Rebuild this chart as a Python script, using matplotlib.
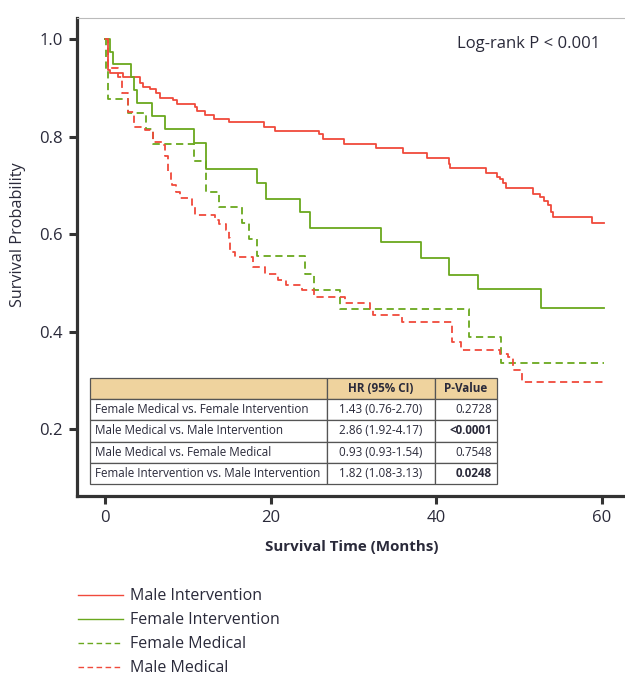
import numpy as np
from matplotlib import pyplot as plt

plt.rcParams['font.family'] = ['Open Sans', 'DejaVu Sans']

## Kaplan-Meier curves (months, survival probability)
male_int_t = [0, 0.3, 0.6, 2.2, 4.2, 4.6, 5.4, 6.2, 6.6, 8.2, 8.7, 10.9, 11.1, 12.1, 13.1, 15.0,
              19.2, 20.5, 25.8, 26.3, 28.8, 32.7, 36.0, 38.9, 41.5, 41.7, 46.0, 47.3, 47.7, 48.1,
              48.4, 51.7, 52.5, 53.0, 53.5, 53.9, 54.1, 58.8, 60.2]
male_int_s = [1.0, 0.936, 0.930, 0.923, 0.910, 0.902, 0.897, 0.890, 0.880, 0.875, 0.867, 0.860,
              0.853, 0.844, 0.835, 0.830, 0.819, 0.811, 0.805, 0.794, 0.785, 0.777, 0.767, 0.755,
              0.744, 0.736, 0.725, 0.718, 0.712, 0.704, 0.694, 0.683, 0.676, 0.668, 0.659, 0.646,
              0.634, 0.622, 0.622]

fem_int_t = [0, 0.6, 1.0, 3.1, 3.5, 3.8, 5.6, 7.2, 10.7, 12.2, 18.3, 19.4, 23.5, 24.7, 33.3,
             38.2, 41.5, 45.0, 52.7, 60.2]
fem_int_s = [1.0, 0.974, 0.948, 0.923, 0.895, 0.869, 0.842, 0.815, 0.787, 0.733, 0.704, 0.672,
             0.646, 0.613, 0.583, 0.550, 0.517, 0.487, 0.449, 0.449]

fem_med_t = [0, 0.1, 0.3, 2.8, 4.9, 5.8, 10.7, 12.2, 13.8, 16.5, 17.4, 18.3, 24.2, 25.2, 28.4,
             44.0, 47.8, 60.2]
fem_med_s = [1.0, 0.938, 0.876, 0.848, 0.815, 0.785, 0.750, 0.686, 0.655, 0.622, 0.590, 0.556,
             0.518, 0.485, 0.446, 0.389, 0.335, 0.335]

male_med_t = [0, 0.3, 1.5, 2.0, 2.8, 3.5, 4.8, 5.8, 7.0, 7.2, 7.6, 7.9, 8.1, 8.5, 9.1, 10.5,
              10.9, 13.3, 13.8, 14.6, 14.9, 15.1, 15.7, 17.9, 19.3, 20.9, 21.9, 23.8, 25.2, 29.0,
              32.0, 32.4, 35.8, 41.9, 43.0, 47.7, 48.7, 49.3, 50.3, 60.3]
male_med_s = [1.0, 0.94, 0.923, 0.889, 0.851, 0.820, 0.813, 0.789, 0.783, 0.760, 0.725, 0.704,
              0.700, 0.687, 0.673, 0.659, 0.640, 0.629, 0.620, 0.608, 0.591, 0.564, 0.553, 0.533,
              0.518, 0.506, 0.495, 0.485, 0.471, 0.459, 0.444, 0.434, 0.420, 0.379, 0.363, 0.355,
              0.347, 0.321, 0.297, 0.297]

## table contents
tab_header = ['', 'HR (95% CI)', 'P-Value']
comparisons = ['Female Medical vs. Female Intervention', 'Male Medical vs. Male Intervention',
               'Male Medical vs. Female Medical', 'Female Intervention vs. Male Intervention']
hr_ci = ['1.43 (0.76-2.70)', '2.86 (1.92-4.17)', '0.93 (0.93-1.54)', '1.82 (1.08-3.13)']
pvals = ['0.2728', '<0.0001', '0.7548', '0.0248']
bold_p = [False, True, False, True]

red = '#f04a3c'
green = '#6aa81e'
txtc = '#2a2a3a'
dash = (0, (4, 2.5))

fig = plt.figure(figsize=(6.25, 6.77), dpi=100)
ax = fig.add_axes([77/625, 1-496/677, 558/625, 478/677])

l1, = ax.step(male_int_t, male_int_s, where='post', color=red, lw=1.3)
l2, = ax.step(fem_int_t, fem_int_s, where='post', color=green, lw=1.3)
l3, = ax.step(fem_med_t, fem_med_s, where='post', color=green, lw=1.3, linestyle=dash)
l4, = ax.step(male_med_t, male_med_s, where='post', color=red, lw=1.3, linestyle=dash)

ax.set_xlim(-3.4, 64)
ax.set_ylim(0.063, 1.043)
ax.set_xticks([0, 20, 40, 60])
ax.set_yticks([0.2, 0.4, 0.6, 0.8, 1.0])
ax.set_yticklabels(['0.2', '0.4', '0.6', '0.8', '1.0'])

for s in ['left', 'bottom']:
    ax.spines[s].set_linewidth(2.3)
    ax.spines[s].set_color('#333333')
ax.spines['top'].set_linewidth(0.8)
ax.spines['top'].set_color('#bbbbbb')
ax.spines['right'].set_visible(False)
ax.tick_params(axis='both', length=6, width=2.2, color='#333333', labelsize=12,
               labelcolor=txtc, pad=4)

ax.set_ylabel('Survival Probability', fontsize=11.7, color=txtc)
ax.yaxis.set_label_coords((18.5-77)/558, (496-235)/478)
ax.yaxis.label.set_verticalalignment('center')
ax.set_xlabel('Survival Time (Months)', fontsize=10.9, fontweight='bold', color=txtc)
ax.xaxis.set_label_coords((352-77)/558, -0.092)

ax.text((600-77)/558, (496-44)/478, 'Log-rank P < 0.001', transform=ax.transAxes,
        ha='right', va='center', fontsize=12, color=txtc)

## HR table
cells = [tab_header] + [[c, h, p] for c, h, p in zip(comparisons, hr_ci, pvals)]
colw = [237/407, 108/407, 62/407]
tab = ax.table(cellText=cells, colWidths=colw,
               bbox=[(90-77)/558, (496-484)/478, 407/558, 106/478])
tab.auto_set_font_size(False)
tab.set_fontsize(8.4)
for (r, c), cell in tab.get_celld().items():
    cell.set_edgecolor('#555555')
    cell.set_linewidth(0.9)
    txt = cell.get_text()
    txt.set_color(txtc)
    if r == 0:
        cell.set_facecolor('#efd39e')
        txt.set_fontweight('bold')
        cell._loc = 'center'
        txt.set_horizontalalignment('center')
    else:
        cell.set_facecolor('white')
        if c == 0:
            cell._loc = 'left'
            cell.PAD = 5/237
            txt.set_horizontalalignment('left')
        elif c == 1:
            cell._loc = 'center'
            txt.set_horizontalalignment('center')
        else:
            cell._loc = 'right'
            cell.PAD = 5/62
            txt.set_horizontalalignment('right')
            if bold_p[r-1]:
                txt.set_fontweight('bold')

leg = fig.legend([l1, l2, l3, l4],
                 ['Male Intervention', 'Female Intervention', 'Female Medical', 'Male Medical'],
                 loc='upper left', bbox_to_anchor=(64/625, 1-574/677), frameon=False,
                 fontsize=11.5, handlelength=2.8, labelspacing=0.5, handletextpad=0.45,
                 labelcolor=txtc)
for h in leg.legend_handles:
    h.set_linewidth(1.0)

fig.savefig('out.png', dpi=100)
